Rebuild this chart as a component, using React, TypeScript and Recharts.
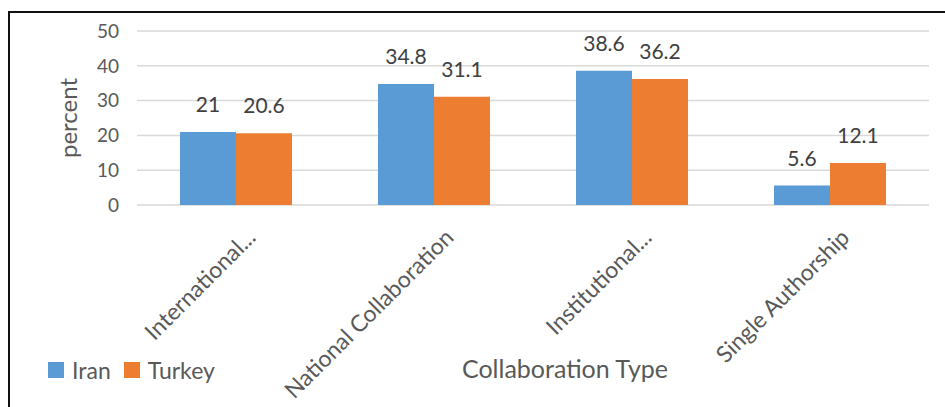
import React from "react";
import {
  BarChart,
  Bar,
  XAxis,
  YAxis,
  CartesianGrid,
  LabelList,
  Label,
} from "recharts";

const categories = [
  "International...",
  "National Collaboration",
  "Institutional...",
  "Single Authorship",
];
const iran = [21, 34.8, 38.6, 5.6];
const turkey = [20.6, 31.1, 36.2, 12.1];
const yTicks = [0, 10, 20, 30, 40, 50];

const BLUE = "#5B9BD5";
const ORANGE = "#ED7D31";
const TEXT = "#595959";
const FONT = "Lato, 'Open Sans', sans-serif";

const data = categories.map((name, i) => ({
  name,
  Iran: iran[i],
  Turkey: turkey[i],
}));

function SlantedTick(props: any) {
  const { x, y, payload } = props;
  const tx = x + 21;
  const ty = y + 26;
  return (
    <text
      x={tx}
      y={ty}
      transform={`rotate(-45, ${tx}, ${ty})`}
      textAnchor="end"
      fill={TEXT}
      fontSize={23}
      fontFamily={FONT}
    >
      {payload.value}
    </text>
  );
}

// legend sits outside the svg so it doesn't shrink the plot area
function LegendBox() {
  const items = [
    { label: "Iran", color: BLUE },
    { label: "Turkey", color: ORANGE },
  ];
  return (
    <div
      style={{
        position: "absolute",
        left: 48,
        top: 356,
        display: "flex",
        alignItems: "center",
        fontFamily: FONT,
        fontSize: 23,
        color: TEXT,
      }}
    >
      {items.map((it) => (
        <div key={it.label} style={{ display: "flex", alignItems: "center", marginRight: 13 }}>
          <span style={{ width: 16, height: 16, background: it.color, display: "inline-block", marginRight: 8 }} />
          <span>{it.label}</span>
        </div>
      ))}
    </div>
  );
}

export default function App() {
  return (
    <div style={{ position: "absolute", left: 0, top: 0, width: 945, height: 407, background: "#fff" }}>
      <div
        style={{
          position: "absolute",
          left: 8,
          top: 11,
          width: 937,
          height: 396,
          borderTop: "2px solid #111",
          borderLeft: "2px solid #111",
        }}
      />
      <BarChart
        width={945}
        height={407}
        data={data}
        margin={{ top: 31, right: 16, left: 0, bottom: 0 }}
        barGap={0}
      >
        <CartesianGrid vertical={false} stroke="#D9D9D9" strokeWidth={1.5} />
        <XAxis
          dataKey="name"
          height={202}
          interval={0}
          tickLine={false}
          axisLine={false}
          tick={<SlantedTick />}
        >
          <Label
            content={() => (
              <text x={565} y={378} textAnchor="middle" fill={TEXT} fontSize={25} fontFamily={FONT}>
                Collaboration Type
              </text>
            )}
          />
        </XAxis>
        <YAxis
          width={137}
          domain={[0, 50]}
          ticks={yTicks}
          tickLine={false}
          axisLine={false}
          tickMargin={12}
          tick={{ fill: TEXT, fontSize: 19, fontFamily: FONT }}
        >
          <Label
            value="percent"
            angle={-90}
            position="center"
            fill={TEXT}
            fontSize={24}
            fontFamily={FONT}
          />
        </YAxis>
        <Bar dataKey="Iran" fill={BLUE} barSize={56} isAnimationActive={false}>
          <LabelList dataKey="Iran" position="top" offset={20} fill="#404040" fontSize={21} fontFamily={FONT} />
        </Bar>
        <Bar dataKey="Turkey" fill={ORANGE} barSize={56} isAnimationActive={false}>
          <LabelList dataKey="Turkey" position="top" offset={20} fill="#404040" fontSize={21} fontFamily={FONT} />
        </Bar>
      </BarChart>
      <LegendBox />
    </div>
  );
}
